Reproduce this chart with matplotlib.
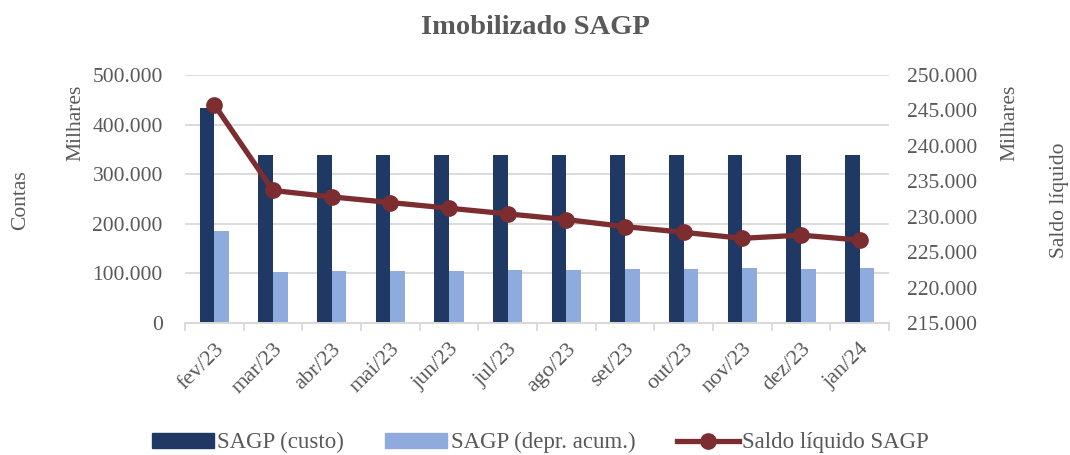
import numpy as np
import matplotlib.pyplot as plt
from matplotlib.lines import Line2D
from matplotlib.patches import Patch
from matplotlib.ticker import FuncFormatter

plt.rcParams['font.family'] = ['Liberation Serif', 'DejaVu Serif']

# Data (milhares)
meses = ['fev/23', 'mar/23', 'abr/23', 'mai/23', 'jun/23', 'jul/23',
         'ago/23', 'set/23', 'out/23', 'nov/23', 'dez/23', 'jan/24']
custo = [433, 338, 338, 338, 338, 338, 338, 338, 338, 338, 338, 338]
depr = [186, 103, 104, 104, 105, 106, 107, 108, 109, 110, 109.5, 110]
saldo = [245.8, 233.7, 232.8, 232.0, 231.2, 230.4, 229.6, 228.6, 227.8,
         226.95, 227.4, 226.7]

c_custo = '#203864'
c_depr = '#8FAADC'
c_saldo = '#7B2D30'
grey = '#595959'

fig = plt.figure(figsize=(10.7, 4.55), dpi=100)
ax = fig.add_axes([0.1729, 0.2901, 0.6579, 0.5451])
ax2 = ax.twinx()

x = np.arange(len(meses))
w = 0.25
ax.bar(x - w / 2, custo, w, color=c_custo, zorder=2)
ax.bar(x + w / 2, depr, w, color=c_depr, zorder=2)
ax2.plot(x, saldo, color=c_saldo, lw=3.8, marker='o', ms=11, zorder=3)

ax.set_xlim(-0.5, len(meses) - 0.5)
ax.set_ylim(0, 500)
ax.set_yticks(np.arange(0, 501, 100))
ax2.set_ylim(215, 250)
ax2.set_yticks(np.arange(215, 251, 5))

ax.yaxis.set_major_formatter(FuncFormatter(lambda v, p: '0' if v == 0 else f'{int(v)}.000'))
ax2.yaxis.set_major_formatter(FuncFormatter(lambda v, p: f'{int(v)}.000'))

ax.grid(axis='y', color='#D9D9D9', lw=1.3, zorder=0)
ax.set_axisbelow(True)
for a in (ax, ax2):
    for s in ('top', 'left', 'right'):
        a.spines[s].set_visible(False)
    a.spines['bottom'].set_color('#D9D9D9')
    a.spines['bottom'].set_linewidth(1.3)
    a.tick_params(axis='y', length=0, labelsize=15.5, labelcolor=grey)

ax.set_xticks(x)
ax.set_xticklabels(meses, rotation=45, ha='right', rotation_mode='anchor',
                   fontsize=16, color=grey)
ax.set_xticks(np.arange(-0.5, len(meses), 1), minor=True)
ax.tick_params(axis='x', which='major', length=0, pad=12)
ax.tick_params(axis='x', which='minor', length=6, color='#D9D9D9', width=1.3)
ax.tick_params(axis='y', pad=16)
ax2.tick_params(axis='y', pad=13)

fig.text(0.5, 0.94, 'Imobilizado SAGP', ha='center', va='center',
         fontsize=20.5, fontweight='bold', color=grey)
fig.text(0.019, 0.56, 'Contas', rotation=90, ha='center', va='center',
         fontsize=15.5, color=grey)
fig.text(0.071, 0.73, 'Milhares', rotation=90, ha='center', va='center',
         fontsize=15.5, color=grey)
fig.text(0.944, 0.73, 'Milhares', rotation=90, ha='center', va='center',
         fontsize=15.5, color=grey)
fig.text(0.99, 0.56, 'Saldo líquido', rotation=90, ha='center', va='center',
         fontsize=15.5, color=grey)

handles = [Patch(color=c_custo), Patch(color=c_depr),
           Line2D([], [], color=c_saldo, lw=3.8, marker='o', ms=11)]
labels = ['SAGP (custo)', 'SAGP (depr. acum.)', 'Saldo líquido SAGP']
fig.legend(handles, labels, loc='center', bbox_to_anchor=(0.505, 0.027), ncol=3,
           frameon=False, fontsize=16.5, labelcolor=grey, handlelength=2.7,
           handleheight=0.6, handletextpad=0.15, columnspacing=1.8)

fig.savefig('out.png', dpi=100)
